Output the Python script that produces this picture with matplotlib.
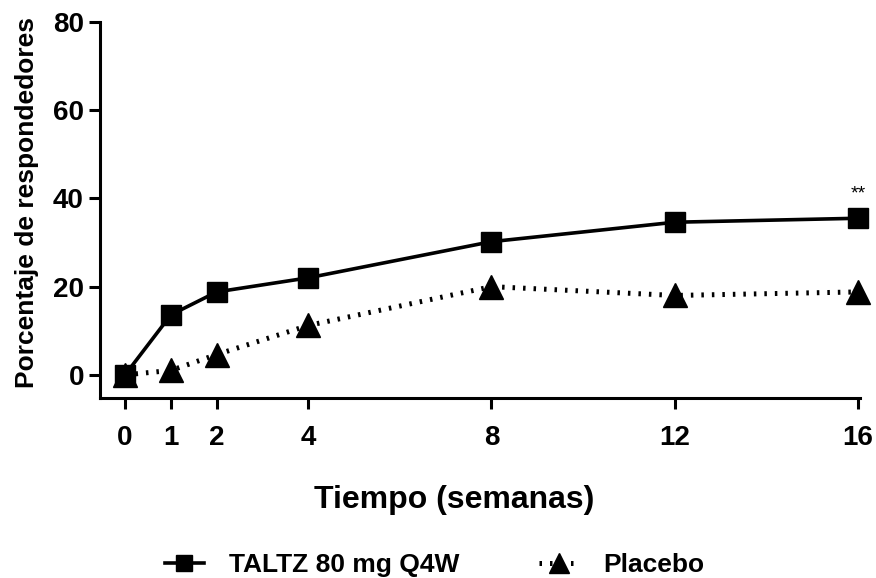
import matplotlib.pyplot as plt

plt.rcParams['font.family'] = ['Liberation Sans', 'DejaVu Sans']
plt.rcParams['font.weight'] = 'bold'
plt.rcParams['axes.labelweight'] = 'bold'

# data
semanas = [0, 1, 2, 4, 8, 12, 16]
taltz = [0, 13.6, 18.8, 22.0, 30.2, 34.6, 35.5]
placebo = [0, 1.0, 4.6, 11.2, 20.0, 18.0, 18.8]

fig = plt.figure(figsize=(8.76, 5.78), dpi=100)
ax = fig.add_axes([0.114, 0.311, 0.868, 0.651])

ax.plot(semanas, taltz, color='black', lw=2.6, marker='s', ms=14,
        label='TALTZ 80 mg Q4W', zorder=3, clip_on=False)
ax.plot(semanas, placebo, color='black', lw=3.6, ls=(0, (0.5, 1.6)),
        marker='^', ms=17, label='Placebo', zorder=3, clip_on=False)

ax.text(16, 39, '**', ha='center', va='bottom', fontsize=14, fontweight='normal')

ax.set_xlim(-0.55, 16.05)
ax.set_ylim(-5.3, 80)
ax.set_xticks(semanas)
ax.set_yticks([0, 20, 40, 60, 80])
ax.spines['top'].set_visible(False)
ax.spines['right'].set_visible(False)
ax.spines['left'].set_linewidth(2.2)
ax.spines['bottom'].set_linewidth(2.2)
ax.tick_params(width=2.2, length=8, labelsize=20)
ax.tick_params(axis='x', pad=11)

ax.set_ylabel('Porcentaje de respondedores', fontsize=19, va='center')
ax.yaxis.set_label_coords(-0.096, 0.52)
ax.set_xlabel('Tiempo (semanas)', fontsize=23, va='center')
ax.xaxis.set_label_coords(0.466, -0.271)

fig.legend(loc='center left', bbox_to_anchor=(0.188, 0.022), ncol=2, frameon=False,
           fontsize=19, handlelength=1.5, handletextpad=0.95, columnspacing=3.0,
           borderpad=0, borderaxespad=0, markerscale=0.85)

fig.savefig('out.png', dpi=100)
